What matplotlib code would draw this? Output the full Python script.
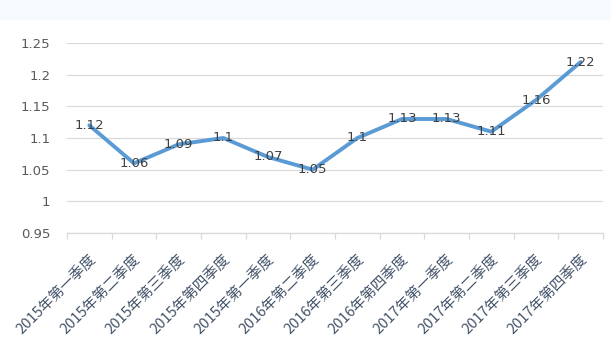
import matplotlib
matplotlib.use("Agg")
import matplotlib.pyplot as plt
from matplotlib.ticker import FixedLocator, NullFormatter
from matplotlib.patches import Rectangle
import numpy as np

plt.rcParams['font.family'] = ['Noto Sans CJK SC', 'DejaVu Sans']

categories = ["2015年第一季度", "2015年第二季度", "2015年第三季度", "2015年第四季度",
              "2015年第一季度", "2016年第二季度", "2016年第三季度", "2016年第四季度",
              "2017年第一季度", "2017年第二季度", "2017年第三季度", "2017年第四季度"]
values = [1.12, 1.06, 1.09, 1.10, 1.07, 1.05, 1.10, 1.13, 1.13, 1.11, 1.16, 1.22]
value_labels = ["1.12", "1.06", "1.09", "1.1", "1.07", "1.05", "1.1", "1.13", "1.13", "1.11", "1.16", "1.22"]
yticks = [0.95, 1.0, 1.05, 1.1, 1.15, 1.2, 1.25]
ytick_labels = ["0.95", "1", "1.05", "1.1", "1.15", "1.2", "1.25"]

fig = plt.figure(figsize=(6.11, 3.42), dpi=100)
fig.patches.append(Rectangle((0, 1-20/342), 1, 20/342, transform=fig.transFigure,
                             facecolor='#F5FAFE', edgecolor='none', zorder=0))
ax = fig.add_axes([67/611, 1-233/342, (603-67)/611, (233-43)/342])
ax.patch.set_alpha(0)

x = np.arange(len(categories))
ax.plot(x, values, color='#5B9BD5', linewidth=2.8, solid_capstyle='round', solid_joinstyle='round', zorder=3)
for xi, v, lab in zip(x, values, value_labels):
    ax.text(xi, v, lab, ha='center', va='center', fontsize=9.5, color='#404040', zorder=4,
            family=['DejaVu Sans'])

ax.set_xlim(-0.5, len(categories) - 0.5)
ax.set_ylim(0.95, 1.25)
ax.set_yticks(yticks)
ax.set_yticklabels(ytick_labels, fontsize=9.5, color='#595959', family=['DejaVu Sans'])
ax.yaxis.grid(True, color='#D9D9D9', linewidth=0.9)
ax.set_axisbelow(True)
ax.tick_params(axis='y', length=0, pad=12)

ax.set_xticks(x)
ax.set_xticklabels(categories, rotation=45, ha='right', rotation_mode='anchor',
                   fontsize=10.5, color='#44546A', fontweight='medium')
ax.tick_params(axis='x', which='major', length=0, pad=14)
ax.xaxis.set_minor_locator(FixedLocator(np.arange(-0.5, len(categories), 1.0)))
ax.xaxis.set_minor_formatter(NullFormatter())
ax.tick_params(axis='x', which='minor', length=4, color='#D9D9D9', width=0.9)

for s in ['top', 'right', 'left']:
    ax.spines[s].set_visible(False)
ax.spines['bottom'].set_color('#D9D9D9')
ax.spines['bottom'].set_linewidth(0.9)

fig.savefig('out.png', dpi=100)
